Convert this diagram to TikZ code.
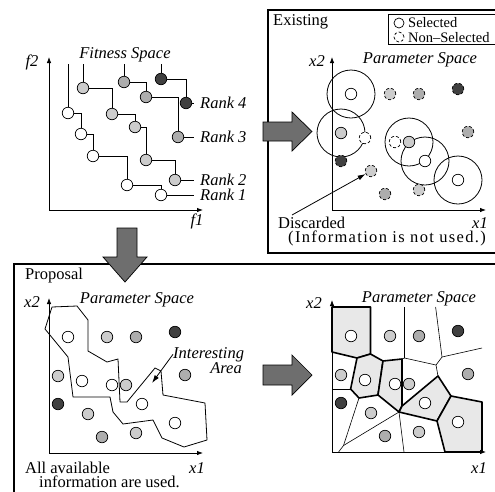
\documentclass[tikz,border=0pt]{standalone}
\usepackage{fontspec}
\setmainfont{Liberation Serif}
\usetikzlibrary{arrows.meta}

\begin{document}
\begin{tikzpicture}[
    x=1pt, y=-1pt,
    txt/.style={font=\fontsize{16.5}{14}\selectfont, inner sep=0pt},
    itl/.style={font=\fontsize{16.5}{19}\selectfont\itshape, inner sep=0pt},
    small/.style={font=\fontsize{14.5}{16}\selectfont, inner sep=0pt},
    axis/.style={line width=0.8pt, -{Latex[length=6pt,width=4.5pt]}},
    link/.style={line width=0.8pt},
    panel/.style={line width=1.2pt},
    bigarrow/.style={draw, line width=0.7pt, fill=black!57, line join=miter},
    pt/.style={circle, draw, line width=0.7pt, minimum size=11.5pt, inner sep=0pt},
    wpt/.style={pt, fill=white},
    gpt/.style={pt, fill=black!20},
    hpt/.style={pt, fill=black!32},
    dpt/.style={pt, fill=black!75},
    ns/.style={densely dashed},
    wns/.style={wpt, ns},
    gns/.style={gpt, ns},
    hns/.style={hpt, ns},
    dns/.style={dpt, ns},
    cell/.style={fill=gray!18, draw, line width=1.6pt, line join=round},
    vline/.style={line width=0.6pt}
  ]
  \useasboundingbox (0,0) rectangle (495,491);
  \clip (0,0) rectangle (495,491);

  \def\ptlist{W1/19/116/wpt, W2/33/72/wpt, W3/63/68/wpt, W4/93/49/wpt, W5/126/30/wpt,
    G1/58/116/gpt, G2/9/77/gpt, G3/77/68/gpt, G4/39/39/gpt, G5/87/20/gpt,
    H1/87/116/hpt, H2/136/78/hpt, H3/53/16/hpt, D1/126/121/dpt, D2/9/49/dpt}

  % fitness space
  \draw[axis] (49,210) -- (49,57);
  \draw[axis] (49,210) -- (203,210);
  \node[itl, anchor=base] at (32,66) {f2};
  \node[itl, anchor=base] at (197,225) {f1};
  \node[itl, anchor=base] at (125,58) {Fitness Space};

  \node[wpt] (r1a) at (68,113) {};
  \node[wpt] (r1b) at (81,134) {};
  \node[wpt] (r1c) at (93,156) {};
  \node[wpt] (r1d) at (127,185) {};
  \node[wpt] (r1e) at (161,195) {};
  \node[gpt] (r2a) at (83,88) {};
  \node[gpt] (r2b) at (112,114) {};
  \node[gpt] (r2c) at (135,127) {};
  \node[gpt] (r2d) at (146,160) {};
  \node[gpt] (r2e) at (175,180) {};
  \node[hpt] (r3a) at (124,82) {};
  \node[hpt] (r3b) at (146,97) {};
  \node[hpt] (r3c) at (178,137) {};
  \node[dpt] (r4a) at (161,79) {};
  \node[dpt] (r4b) at (186,103) {};

  \coordinate (r1t) at (68,64);
  \coordinate (r2t) at (83,64);
  \coordinate (r3t) at (124,64);
  \coordinate (r4t) at (161,64);

  \node[itl, anchor=west] (lab1) at (200,195) {Rank 1};
  \node[itl, anchor=west] (lab2) at (200,180) {Rank 2};
  \node[itl, anchor=west] (lab3) at (200,137) {Rank 3};
  \node[itl, anchor=west] (lab4) at (200,103) {Rank 4};

  \draw[link] (r1t) -- (r1a) -| (r1b) -| (r1c) -| (r1d) -| (r1e) -- ([xshift=-6pt]lab1.west);
  \draw[link] (r2t) -- (r2a) -| (r2b) -| (r2c) -| (r2d) -| (r2e) -- ([xshift=-6pt]lab2.west);
  \draw[link] (r3t) -- (r3a) -| (r3b) -| (r3c) -- ([xshift=-6pt]lab3.west);
  \draw[link] (r4t) -- (r4a) -| (r4b) -- ([xshift=-6pt]lab4.west);

  % existing method
  \draw[panel] (268,10) rectangle (500,253);
  \node[txt, anchor=base west] at (273,25) {Existing};
  \draw[link] (388,14) rectangle (500,44);
  \node[pt, minimum size=10pt] (keysel) at (399,23) {};
  \node[small, anchor=base west] at (408,27) {Selected};
  \node[pt, ns, minimum size=10pt] (keyns) at (399,37) {};
  \node[small, anchor=base west] at (408,42) {Non--Selected};

  \draw[axis] (332,210) -- (332,57);
  \draw[axis] (332,210) -- (486,210);
  \node[itl, anchor=base] at (317,66) {x2};
  \node[itl, anchor=base] at (480,228) {x1};
  \node[itl, anchor=base] at (420,63) {Parameter Space};

  \foreach \x/\y in {19/116, 93/49, 126/30, 9/77, 77/68}
    \draw[link] ({332+\x},{210-\y}) circle[radius=24pt];
  \foreach \n/\x/\y/\s in {W1/19/116/wpt, W2/33/72/wns, W3/63/68/wns, W4/93/49/wpt, W5/126/30/wpt,
      G1/58/116/gns, G2/9/77/gpt, G3/77/68/gpt, G4/39/39/gns, G5/87/20/gns,
      H1/87/116/hns, H2/136/78/hns, H3/53/16/hns, D1/126/121/dns, D2/9/49/dns}
    \node[\s] (e\n) at ({332+\x},{210-\y}) {};

  \node[txt, anchor=base west, align=left] (disc) at (278,242)
    {Discarded\\\hspace*{10pt}\addfontfeature{LetterSpace=8}(Information is not used.)};
  \coordinate (dtail) at (292,215);
  \draw[link, -{Latex[length=8pt,width=5pt]}] (dtail) -- (eG4);

  % proposal
  \draw[panel] (14,264) rectangle (500,500);
  \node[txt, anchor=base west] at (25,279) {Proposal};
  \node[txt, anchor=base west, align=left] at (25,487)
    {All available\\\hspace*{14pt}information are used.};

  \draw[link, line join=round] (52,307) -- (77,306) -- (88,320) -- (88,351) -- (107,362)
    -- (118,359) -- (120,402) -- (127,402) -- (155,368) -- (161,371) -- (163,395)
    -- (205,403) -- (207,440) -- (184,447) -- (162,438) -- (153,420) -- (123,424)
    -- (113,412) -- (110,397) -- (73,397) -- (68,357) -- (45,329) -- cycle;

  \draw[axis] (49,453) -- (49,298);
  \draw[axis] (49,453) -- (203,453);
  \node[itl, anchor=base] at (32,307) {x2};
  \node[itl, anchor=base] at (197,473) {x1};
  \node[itl, anchor=base] at (137,303) {Parameter Space};

  \foreach \n/\x/\y/\s in \ptlist
    \node[\s] (p\n) at ({49+\x},{453-\y}) {};

  \node[itl, anchor=base west] (ia) at (173,358) {Interesting};
  \node[itl, anchor=base east] at (242,373) {Area};
  \coordinate (iatip) at (152,383);
  \draw[link, -{Latex[length=8pt,width=5pt]}] (ia.west) -- (iatip);

  % voronoi cells
  \draw[vline] (404.5,307) -- (404.5,358) -- (402,359);
  \draw[vline] (404.5,358) -- (436,365) -- (442,357) -- (435.6,307);
  \draw[vline] (442,357) -- (482,348);
  \draw[vline] (436,365) -- (438,376);
  \draw[vline] (332,389) -- (350.6,389);
  \draw[vline] (359,398) -- (343.5,445.5) -- (338.6,452);
  \draw[vline] (343.5,445.5) -- (399,412) -- (404,452);

  \filldraw[cell] (332,307) -- (370.5,307) -- (370.5,354) -- (357,358) -- (332,352) -- cycle;
  \filldraw[cell] (357,358) -- (370.5,354) -- (383,361) -- (378,395) -- (359,398) -- (350.6,389) -- cycle;
  \filldraw[cell] (383,361) -- (402,359) -- (402,406) -- (399,412) -- (378,395) -- cycle;
  \filldraw[cell] (402,406) -- (438,376) -- (451,396) -- (437,421) -- (399,412) -- cycle;
  \filldraw[cell] (451,396) -- (482,402) -- (482,452) -- (445,452) -- (437,421) -- cycle;

  \draw[axis] (332,452) -- (332,300);
  \draw[axis] (332,452) -- (486,452);
  \node[itl, anchor=base] at (314,308) {x2};
  \node[itl, anchor=base] at (479,473) {x1};
  \node[itl, anchor=base] at (419,302) {Parameter Space};

  \foreach \n/\x/\y/\s in \ptlist
    \node[\s] (v\n) at ({332+\x},{452-\y}) {};

  % flow arrows
  \draw[bigarrow] (117,228) -- (137,228) -- (137,257) -- (147,257) -- (125,282) -- (103,257) -- (117,257) -- cycle;
  \draw[bigarrow] (263,122) -- (292,122) -- (292,112) -- (312,131.5) -- (292,151) -- (292,141) -- (263,141) -- cycle;
  \draw[bigarrow] (263,365) -- (292,365) -- (292,355) -- (312,375) -- (292,395) -- (292,385) -- (263,385) -- cycle;
\end{tikzpicture}
\end{document}
